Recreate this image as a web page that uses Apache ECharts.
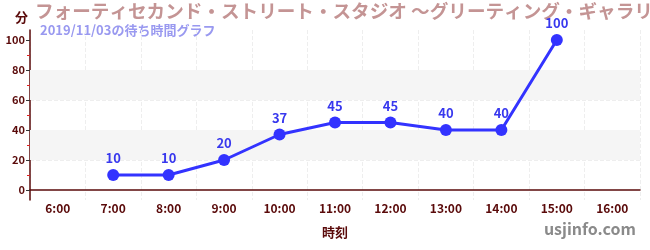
<!DOCTYPE html>
<html><head><meta charset="utf-8">
<script src="https://cdn.jsdelivr.net/npm/echarts@6/dist/echarts.min.js"></script>
<style>html,body{margin:0;padding:0;background:#fff}#c{width:650px;height:250px}</style>
</head><body><div id="c"></div>
<script>
const categories = ['6:00','7:00','8:00','9:00','10:00','11:00','12:00','13:00','14:00','15:00','16:00'];
const waitTimes = [null,10,10,20,37,45,45,40,40,100,null];
const yTicks = [0,20,40,60,80,100];
const bands = [[20,40],[60,80]];
const titleText = 'フォーティセカンド・ストリート・スタジオ ～グリーティング・ギャラリー～';
const subText = '2019/11/03の待ち時間グラフ';

const font = '"Noto Sans CJK JP", "Noto Sans", sans-serif';
const axisColor = '#5a0a0a';
const chart = echarts.init(document.getElementById('c'));
chart.setOption({
  animation: false,
  textStyle: {fontFamily: font},
  grid: {left: 30, right: 10, top: 30, bottom: 50, containLabel: false},
  graphic: [
    {type: 'text', left: 35, top: 2, style: {text: titleText, fontSize: 18.6, fontWeight: 'bold', fill: '#c49494', fontFamily: font}},
    {type: 'text', left: 40, top: 24, style: {text: subText, fontSize: 13, fontWeight: 'bold', fill: '#9999f0', fontFamily: font}},
    {type: 'text', right: 14, top: 221, style: {text: 'usjinfo.com', fontSize: 16, fontWeight: 'bold', fill: '#8a8a8a', fontFamily: font}}
  ],
  xAxis: {
    type: 'category', data: categories, boundaryGap: true,
    name: '時刻', nameLocation: 'middle', nameGap: 26,
    nameTextStyle: {color: axisColor, fontWeight: 'bold', fontSize: 13},
    axisLine: {lineStyle: {color: axisColor, width: 1.5}},
    axisTick: {alignWithLabel: true, length: 4, lineStyle: {color: '#333'}},
    axisLabel: {color: axisColor, fontWeight: 'bold', fontSize: 12, margin: 2, interval: 0},
    splitLine: {show: true, interval: 0, lineStyle: {color: '#eeeeee', type: 'dashed'}}
  },
  yAxis: {
    type: 'value', min: -20/3, max: 320/3,
    name: '分', nameLocation: 'end', nameGap: 6,
    nameTextStyle: {color: axisColor, fontWeight: 'bold', fontSize: 13, align: 'right', padding: [0, 2, 0, 0]},
    axisLine: {show: true, lineStyle: {color: axisColor, width: 1.5}},
    axisTick: {show: true, length: 4, customValues: yTicks, lineStyle: {color: '#333'}},
    minorTick: {show: true, splitNumber: 2, length: 3, lineStyle: {color: '#e02020'}},
    axisLabel: {color: axisColor, fontWeight: 'bold', fontSize: 11, margin: 5, customValues: yTicks},
    splitLine: {show: true, showMinLine: false, showMaxLine: false, lineStyle: {color: '#eeeeee', type: 'dashed'}}
  },
  series: [{
    type: 'line', data: waitTimes,
    symbol: 'circle', symbolSize: 12,
    itemStyle: {color: '#3333ff'},
    lineStyle: {color: '#3333ff', width: 3},
    label: {show: true, position: 'top', color: '#3838ee', fontWeight: 'bold', fontSize: 13, distance: 4},
    markArea: {silent: true, itemStyle: {color: '#f5f5f5'}, data: bands.map(b => [{yAxis: b[0]}, {yAxis: b[1]}])},
    z: 5
  }]
});
</script></body></html>
